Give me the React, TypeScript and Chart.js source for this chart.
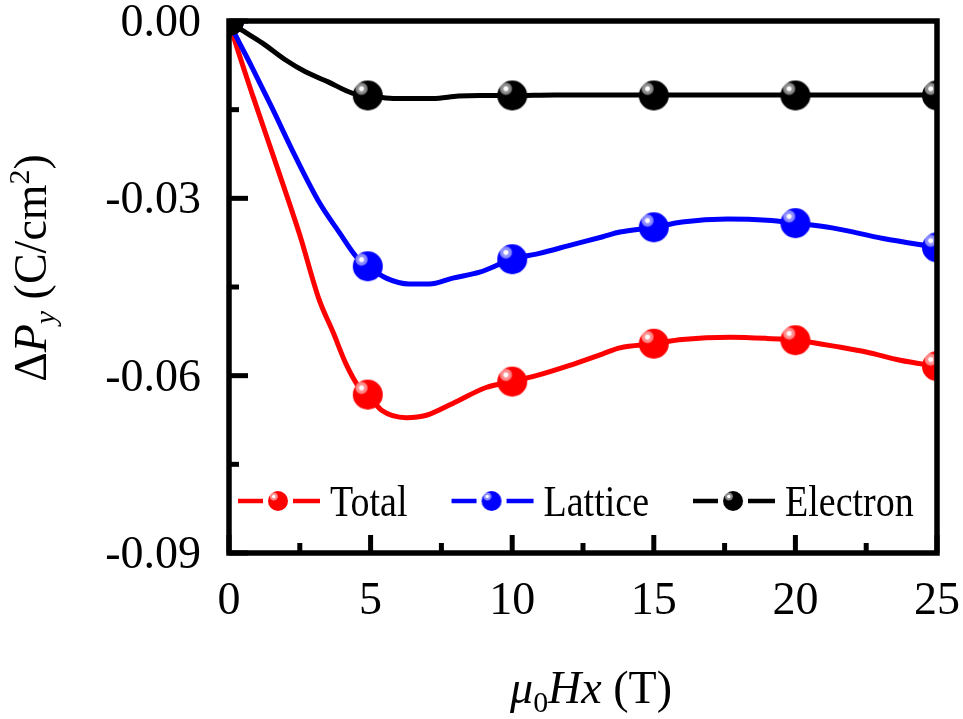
import React, { useEffect, useRef } from 'react';
import { Chart, registerables } from 'chart.js';

Chart.register(...registerables);

const FONT = '"Liberation Serif", "Times New Roman", serif';

// Series meta
const seriesLabels = ['Total', 'Lattice', 'Electron'];
const seriesColors = ['#ff0000', '#0000ff', '#000000'];

// Continuous curves (field in T, ΔPy in C/cm²)
const totalField = [0, 0.1, 0.85, 1.69, 2.5, 3.18, 3.68, 4.13, 4.6, 4.9, 5.4, 6.26, 6.97, 7.9, 9.08, 10, 10.85, 12.0, 13.2, 13.8, 15, 16.0, 17.7, 19.0, 20, 21.6, 22.5, 23.7, 25];
const totalDP = [0, -0.0017, -0.0128, -0.0246, -0.0362, -0.0471, -0.0527, -0.058, -0.062, -0.0632, -0.0659, -0.0671, -0.0667, -0.0647, -0.062, -0.061, -0.06, -0.0583, -0.0563, -0.0553, -0.0546, -0.0539, -0.0535, -0.0537, -0.054, -0.0552, -0.056, -0.0574, -0.0584];

const latticeField = [0, 0.1, 0.8, 1.5, 2.35, 3.2, 3.9, 4.5, 4.9, 5.55, 6.36, 7.07, 7.9, 8.85, 10, 10.96, 12.0, 13.2, 13.8, 15, 16.0, 17.6, 19.0, 20, 21.3, 23.1, 25];
const latticeDP = [0, -0.0011, -0.0077, -0.0145, -0.023, -0.0308, -0.0358, -0.0399, -0.0415, -0.0435, -0.0445, -0.0445, -0.0435, -0.0425, -0.0403, -0.0393, -0.038, -0.0365, -0.0357, -0.0349, -0.034, -0.0335, -0.0337, -0.0342, -0.035, -0.0368, -0.0383];

const electronField = [0, 0.35, 1.17, 2.0, 2.7, 3.5, 4.35, 4.9, 5.8, 7.2, 8.1, 8.85, 10, 11.5, 13, 15, 16.5, 18, 20, 21.5, 23, 25];
const electronDP = [0, -0.0012, -0.0037, -0.0066, -0.0086, -0.0103, -0.0122, -0.0126, -0.0131, -0.0131, -0.0127, -0.0126, -0.0126, -0.0125, -0.0125, -0.0125, -0.0125, -0.0125, -0.0125, -0.0125, -0.0125, -0.0125];

// Marker points
const markerField = [0, 4.9, 10, 15, 20, 25];
const totalMarkers = [0, -0.0632, -0.061, -0.0546, -0.054, -0.0584];
const latticeMarkers = [0, -0.0415, -0.0403, -0.0349, -0.0342, -0.0383];
const electronMarkers = [0, -0.0126, -0.0126, -0.0126, -0.0126, -0.0126];

// Axis ticks
const xMajorTicks = [0, 5, 10, 15, 20, 25];
const xTickLabels = ['0', '5', '10', '15', '20', '25'];
const xMinorTicks = [2.5, 7.5, 12.5, 17.5, 22.5];
const yMajorTicks = [0, -0.03, -0.06, -0.09];
const yTickLabels = ['0.00', '-0.03', '-0.06', '-0.09'];
const yMinorTicks = [-0.015, -0.045, -0.075];

type Part = { t: string; it?: boolean; sub?: boolean; sup?: boolean };

function makeSphere(color: string, r: number): HTMLCanvasElement {
  const c = document.createElement('canvas');
  const size = Math.ceil(r * 2 + 2);
  c.width = size;
  c.height = size;
  const g = c.getContext('2d')!;
  const cx = size / 2;
  g.fillStyle = color;
  g.beginPath();
  g.arc(cx, cx, r, 0, Math.PI * 2);
  g.fill();
  const hx = cx - r * 0.42;
  const hy = cx - r * 0.45;
  const hr = r * 0.45;
  const grad = g.createRadialGradient(hx, hy, 0, hx, hy, hr);
  grad.addColorStop(0, 'rgba(255,255,255,1)');
  grad.addColorStop(0.3, 'rgba(255,255,255,1)');
  grad.addColorStop(0.42, 'rgba(255,255,255,0.6)');
  grad.addColorStop(0.8, 'rgba(255,255,255,0.5)');
  grad.addColorStop(1, 'rgba(255,255,255,0)');
  g.fillStyle = grad;
  g.beginPath();
  g.arc(hx, hy, hr, 0, Math.PI * 2);
  g.fill();
  return c;
}

function partFont(p: Part, size: number) {
  const s = p.sub || p.sup ? size * 0.65 : size;
  return `${p.it ? 'italic ' : ''}${s}px ${FONT}`;
}

function drawRich(ctx: CanvasRenderingContext2D, parts: Part[], cx: number, baseline: number, size: number) {
  let total = 0;
  const widths = parts.map((p) => {
    ctx.font = partFont(p, size);
    const w = ctx.measureText(p.t).width;
    total += w;
    return w;
  });
  let x = cx - total / 2;
  ctx.textAlign = 'left';
  ctx.textBaseline = 'alphabetic';
  parts.forEach((p, i) => {
    ctx.font = partFont(p, size);
    let y = baseline;
    if (p.sub) y += size * 0.2;
    if (p.sup) y -= size * 0.38;
    ctx.fillText(p.t, x, y);
    x += widths[i];
  });
}

const yTitle: Part[] = [
  { t: 'Δ' },
  { t: 'P', it: true },
  { t: 'y', it: true, sub: true },
  { t: ' (C/cm' },
  { t: '2', sup: true },
  { t: ')' },
];
const xTitle: Part[] = [
  { t: 'μ', it: true },
  { t: '0', sub: true },
  { t: 'H', it: true },
  { t: 'x', it: true },
  { t: ' (T)' },
];

export default function App() {
  const ref = useRef<HTMLCanvasElement | null>(null);

  useEffect(() => {
    if (!ref.current) return;
    const bigSpheres = seriesColors.map((c) => makeSphere(c, 15));
    const smallSpheres = seriesColors.map((c) => makeSphere(c, 10));

    const lines = [
      [totalField, totalDP],
      [latticeField, latticeDP],
      [electronField, electronDP],
    ];
    const markers = [totalMarkers, latticeMarkers, electronMarkers];

    const datasets: any[] = [];
    lines.forEach(([xs, ys], i) => {
      datasets.push({
        type: 'line',
        label: seriesLabels[i],
        data: xs.map((x, k) => ({ x, y: ys[k] })),
        borderColor: seriesColors[i],
        borderWidth: 5,
        pointRadius: 0,
        cubicInterpolationMode: 'monotone',
        fill: false,
        order: 6 - i * 2,
      });
      datasets.push({
        type: 'line',
        label: seriesLabels[i] + ' markers',
        data: markerField.map((x, k) => ({ x, y: markers[i][k] })),
        showLine: false,
        pointStyle: bigSpheres[i],
        pointRadius: 15,
        clip: 0,
        order: 5 - i * 2,
      });
    });

    const decor = {
      id: 'decor',
      afterDatasetsDraw(chart: any) {
        const ctx: CanvasRenderingContext2D = chart.ctx;
        const { left, right, top, bottom } = chart.chartArea;
        const xs = chart.scales.x;
        const ys = chart.scales.y;
        ctx.save();
        ctx.fillStyle = '#000';
        ctx.strokeStyle = '#000';
        // frame
        ctx.lineWidth = 5.5;
        ctx.lineJoin = 'miter';
        ctx.strokeRect(left, top, right - left, bottom - top);
        // ticks
        ctx.lineWidth = 5;
        ctx.lineCap = 'butt';
        const tick = (x1: number, y1: number, x2: number, y2: number) => {
          ctx.beginPath();
          ctx.moveTo(x1, y1);
          ctx.lineTo(x2, y2);
          ctx.stroke();
        };
        xMajorTicks.forEach((v) => {
          const px = xs.getPixelForValue(v);
          tick(px, bottom, px, bottom - 18);
        });
        xMinorTicks.forEach((v) => {
          const px = xs.getPixelForValue(v);
          tick(px, bottom, px, bottom - 10);
        });
        yMajorTicks.forEach((v) => {
          const py = ys.getPixelForValue(v);
          tick(left, py, left + 19, py);
        });
        yMinorTicks.forEach((v) => {
          const py = ys.getPixelForValue(v);
          tick(left, py, left + 10, py);
        });
        // tick labels
        ctx.font = `46px ${FONT}`;
        ctx.textBaseline = 'alphabetic';
        ctx.textAlign = 'center';
        xMajorTicks.forEach((v, i) => {
          ctx.fillText(xTickLabels[i], xs.getPixelForValue(v), bottom + 61);
        });
        ctx.textAlign = 'right';
        yMajorTicks.forEach((v, i) => {
          ctx.fillText(yTickLabels[i], left - 28, ys.getPixelForValue(v) + 15);
        });
        // axis titles
        drawRich(ctx, xTitle, (left + right) / 2 + 8, 703, 46);
        ctx.save();
        ctx.translate(46, 268);
        ctx.rotate(-Math.PI / 2);
        drawRich(ctx, yTitle, 0, 0, 46);
        ctx.restore();
        // legend
        const ly = bottom - 52;
        let lx = left + 9;
        ctx.font = `38px ${FONT}`;
        seriesLabels.forEach((lab, i) => {
          ctx.strokeStyle = seriesColors[i];
          ctx.lineWidth = 4.5;
          tick(lx, ly, lx + 25, ly);
          tick(lx + 55, ly, lx + 82, ly);
          const s = smallSpheres[i];
          ctx.drawImage(s, lx + 40 - s.width / 2, ly - s.height / 2);
          ctx.fillStyle = '#000';
          ctx.textAlign = 'left';
          ctx.font = `38px ${FONT}`;
          const w = ctx.measureText(lab).width;
          ctx.save();
          ctx.translate(lx + 92, ly + 15);
          ctx.scale(1, 1.15);
          ctx.fillText(lab, 0, 0);
          ctx.restore();
          lx += 92 + w + 44;
        });
        ctx.restore();
      },
    };

    const chart = new Chart(ref.current, {
      type: 'line',
      data: { datasets },
      options: {
        responsive: false,
        animation: false,
        events: [],
        layout: { padding: { left: 229, right: 26, top: 21, bottom: 166 } },
        plugins: { legend: { display: false }, tooltip: { enabled: false }, title: { display: false } },
        scales: {
          x: { type: 'linear', min: 0, max: 25, display: false },
          y: { type: 'linear', min: -0.09, max: 0, display: false },
        },
      },
      plugins: [decor],
    } as any);
    return () => chart.destroy();
  }, []);

  return (
    <div style={{ position: 'fixed', left: 0, top: 0, width: 963, height: 719, background: '#fff' }}>
      <canvas ref={ref} width={963} height={719} style={{ display: 'block' }} />
    </div>
  );
}
